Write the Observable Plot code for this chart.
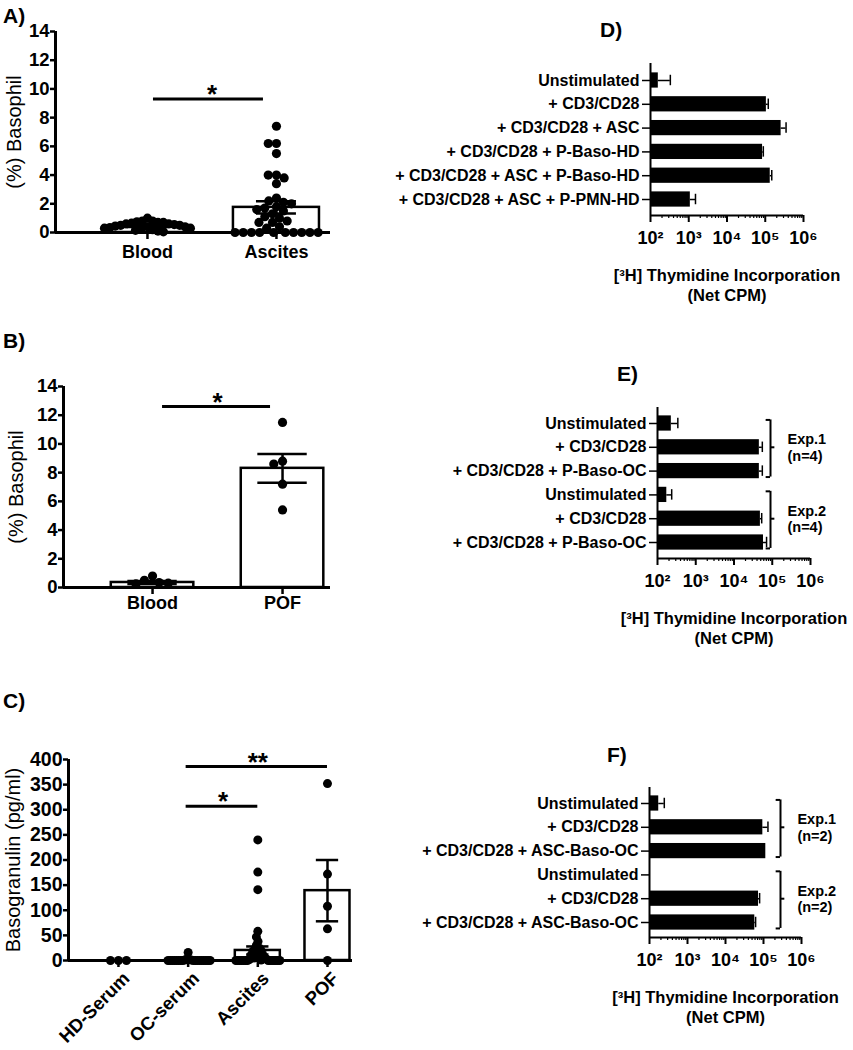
<!DOCTYPE html>
<html><head><meta charset="utf-8">
<script src="https://cdn.jsdelivr.net/npm/d3@7"></script>
<script src="https://cdn.jsdelivr.net/npm/@observablehq/plot@0.6"></script>
<style>
html,body{margin:0;padding:0;background:#fff;}
#fig{position:relative;width:853px;height:1050px;overflow:hidden;font-family:'Liberation Sans',Arial,sans-serif;color:#000;background:#fff;}
.lab{position:absolute;font-size:21px;font-weight:bold;line-height:21px;}
.panel{position:absolute;}
</style></head><body><div id="fig"></div>
<script>
const FONT = "'Liberation Sans', Arial, Helvetica, sans-serif";

// ---------- Panel A ----------
const aCats = ["Blood", "Ascites"];
const aBlood = [1.0, 0.8, 0.8, 0.75, 0.7, 0.7, 0.65, 0.6, 0.6, 0.55, 0.5, 0.5, 0.45, 0.4, 0.4, 0.35, 0.3, 0.3, 0.25, 0.2, 0.15, 0.1, 0.05];
const aAscites = [7.4, 6.2, 6.2, 5.5, 4.0, 4.0, 3.8, 3.4, 2.4, 2.2, 2.1, 2.0, 1.8, 1.7, 1.6, 1.5, 1.3, 1.1, 1.0, 0.8, 0.7, 0.7, 0.4, 0.3, 0, 0, 0, 0, 0, 0, 0, 0, 0, 0];
const aMean = [0.45, 1.75];
const aSem = [0.06, 0.42];
const aSig = [{from: 0, to: 1, y: 9.3, label: "*"}];
const aTicks = [0, 2, 4, 6, 8, 10, 12, 14];

// ---------- Panel B ----------
const bCats = ["Blood", "POF"];
const bBlood = [0.8, 0.5, 0.35, 0.3, 0.25];
const bPOF = [11.5, 8.8, 8.6, 7.2, 5.4];
const bMean = [0.35, 8.3];
const bSem = [0.1, 1.0];
const bSig = [{from: 0, to: 1, y: 12.6, label: "*"}];
const bTicks = [0, 2, 4, 6, 8, 10, 12, 14];

// ---------- Panel C ----------
const cCats = ["HD-Serum", "OC-serum", "Ascites", "POF"];
const cHD = [0, 0, 0];
const cOC = [16, 3, 2, 1, 1, 0, 0, 0, 0, 0, 0, 0, 0, 0, 0, 0, 0, 0, 0, 0, 0, 0];
const cAscites = [240, 176, 141, 58, 47, 38, 30, 25, 22, 20, 18, 15, 12, 10, 8, 6, 5, 4, 3, 2, 1, 0, 0, 0, 0, 0, 0, 0, 0, 0, 0, 0, 0, 0, 0];
const cPOF = [352, 172, 108, 63, 0];
const cMean = [0, 1, 20, 139];
const cSem = [0, 0.8, 8, 61];
const cSig = [{from: 1, to: 2, y: 307, label: "*"}, {from: 1, to: 3, y: 386, label: "**"}];
const cTicks = [0, 50, 100, 150, 200, 250, 300, 350, 400];

// ---------- Panel D ----------
const dLabels = ["Unstimulated", "+ CD3/CD28", "+ CD3/CD28 + ASC", "+ CD3/CD28 + P-Baso-HD", "+ CD3/CD28 + ASC + P-Baso-HD", "+ CD3/CD28 + ASC + P-PMN-HD"];
const dValues = [160, 107000, 260000, 85000, 135000, 1100];
const dSem = [170, 13000, 90000, 4000, 13000, 400];

// ---------- Panel E ----------
const eLabels = ["Unstimulated", "+ CD3/CD28", "+ CD3/CD28 + P-Baso-OC", "Unstimulated", "+ CD3/CD28", "+ CD3/CD28 + P-Baso-OC"];
const eValues = [230, 46000, 46000, 175, 49000, 59000];
const eSem = [110, 9000, 9000, 60, 4000, 12000];
const eGroups = [{from: 0, to: 2, label: "Exp.1\n(n=4)"}, {from: 3, to: 5, label: "Exp.2\n(n=4)"}];

// ---------- Panel F ----------
const fLabels = ["Unstimulated", "+ CD3/CD28", "+ CD3/CD28 + ASC-Baso-OC", "Unstimulated", "+ CD3/CD28", "+ CD3/CD28 + ASC-Baso-OC"];
const fValues = [175, 96000, 115000, 100, 74000, 59000];
const fSem = [70, 35000, 0, 0, 5000, 3000];
const fGroups = [{from: 0, to: 2, label: "Exp.1\n(n=2)"}, {from: 3, to: 5, label: "Exp.2\n(n=2)"}];

const decades = [1e2, 1e3, 1e4, 1e5, 1e6];
const sup = {2: "²", 3: "³", 4: "⁴", 5: "⁵", 6: "⁶"};
const axisTitle = ["[³H] Thymidine Incorporation", "(Net CPM)"];

const fig = document.getElementById("fig");
function place(node, left, top) {
  const d = document.createElement("div");
  d.className = "panel";
  d.style.left = left + "px";
  d.style.top = top + "px";
  d.appendChild(node);
  fig.appendChild(d);
}
function label(txt, left, top) {
  const d = document.createElement("div");
  d.className = "lab";
  d.style.left = left + "px";
  d.style.top = top + "px";
  d.textContent = txt;
  fig.appendChild(d);
}
const baseStyle = {fontFamily: FONT, fontSize: "16px", fontWeight: "bold", background: "none", maxWidth: "none", overflow: "visible", color: "black"};

// beeswarm layout (pixel space), compressed to a maximum half width
function swarm(vals, pxY, r, pad, maxHalf) {
  const d = 2 * r + pad;
  const placed = [];
  const xs = [];
  for (const v of vals) {
    const y = v * pxY;
    const cand = [0];
    for (const p of placed) {
      const dy = Math.abs(p.y - y);
      if (dy < d) {
        const dx = Math.sqrt(d * d - dy * dy);
        cand.push(p.x - dx, p.x + dx);
      }
    }
    cand.sort((a, b) => Math.abs(a) - Math.abs(b));
    const x = cand.find(c => placed.every(p => (p.x - c) ** 2 + (p.y - y) ** 2 >= d * d - 1e-6));
    placed.push({x, y});
    xs.push(x);
  }
  const m = Math.max(0, ...xs.map(Math.abs));
  const k = m > maxHalf ? maxHalf / m : 1;
  return xs.map(x => x * k);
}

function scatterPanel(c) {
  const pxY = (c.height - c.mt - c.mb) / (c.yDomain[1] - c.yDomain[0]);
  const pxX = (c.width - c.ml - c.mr) / (c.xDomain[1] - c.xDomain[0]);
  const pts = [];
  c.groups.forEach((vals, i) => {
    const off = swarm(vals, pxY, c.r, c.pad, c.maxHalf);
    vals.forEach((v, k) => pts.push({i, v, x: i + off[k] / pxX}));
  });
  const bars = c.cats.map((cat, i) => ({i, cat, m: c.mean[i], s: c.sem[i]}));
  const eb = bars.filter(d => d.s > 0);
  const catText = c.rotate
    ? Plot.text(bars, {x: "i", text: "cat", frameAnchor: "bottom", rotate: c.rotate, textAnchor: "end", lineAnchor: "middle", dx: 8, dy: c.xPad, fontSize: c.catFont, fontWeight: "bold"})
    : Plot.text(bars, {x: "i", text: "cat", frameAnchor: "bottom", lineAnchor: "top", dy: c.xPad, fontSize: c.catFont, fontWeight: "bold"});
  return Plot.plot({
    width: c.width, height: c.height,
    marginLeft: c.ml, marginTop: c.mt, marginRight: c.mr, marginBottom: c.mb,
    x: {domain: c.xDomain, axis: null},
    y: {domain: c.yDomain, axis: null},
    style: baseStyle,
    marks: [
      Plot.rectY(bars, {x1: d => d.i - c.barW / 2, x2: d => d.i + c.barW / 2, y1: 0, y2: "m", fill: "white", stroke: "black", strokeWidth: 2.5}),
      Plot.dot(pts, {x: "x", y: "v", r: c.r, fill: "black", stroke: "none"}),
      Plot.ruleX(eb, {x: "i", y1: d => d.m - d.s, y2: d => d.m + d.s, strokeWidth: 2.5}),
      Plot.ruleY(eb, {y: d => d.m + d.s, x1: d => d.i - c.capW, x2: d => d.i + c.capW, strokeWidth: 2.5}),
      Plot.ruleY(eb, {y: d => d.m - d.s, x1: d => d.i - c.capW, x2: d => d.i + c.capW, strokeWidth: 2.5}),
      Plot.ruleX([c.xDomain[0]], {strokeWidth: 3}),
      Plot.ruleY([0], {strokeWidth: 3}),
      Plot.axisY({ticks: c.yTicks, tickSize: 5, tickFormat: () => "", label: null, strokeWidth: 2.5}),
      Plot.text(c.yTicks, {y: d => d, text: d => String(d), frameAnchor: "left", textAnchor: "end", dx: -6, fontSize: c.tickFont, fontWeight: "bold"}),
      Plot.axisX({ticks: d3.range(c.cats.length), tickSize: 7, tickFormat: () => "", label: null, strokeWidth: 2.5}),
      catText,
      Plot.ruleY(c.sig, {y: "y", x1: "from", x2: "to", strokeWidth: 3, insetLeft: c.sigInsetL, insetRight: c.sigInsetR}),
      Plot.text(c.sig, {x: d => (d.from + d.to) / 2, y: "y", text: "label", fontSize: 26, fontWeight: "bold", lineAnchor: "bottom", dy: 4}),
      Plot.text([c.ylabel], {text: d => d, frameAnchor: "left", textAnchor: "middle", lineAnchor: "middle", rotate: -90, dx: c.labelDx, fontSize: 20, fontWeight: "normal"})
    ]
  });
}

function hbarPanel(c) {
  const rows = c.labels.map((l, i) => ({i, l, v: c.values[i], s: c.sems[i]}));
  const eb = rows.filter(d => d.s > 0);
  const minor = [];
  for (let e = 2; e < 6; e++) for (let m = 2; m <= 9; m++) minor.push(m * 10 ** e);
  const marks = [
    Plot.rectX(rows, {x1: 100, x2: "v", y1: d => d.i - 0.32, y2: d => d.i + 0.32, fill: "black"}),
    Plot.ruleY(eb, {y: "i", x1: "v", x2: d => d.v + d.s, strokeWidth: 1.5}),
    Plot.ruleX(eb, {x: d => d.v + d.s, y1: d => d.i - 0.22, y2: d => d.i + 0.22, strokeWidth: 1.5}),
    Plot.ruleX([100], {strokeWidth: 2}),
    Plot.ruleY([c.yDomain[1]], {strokeWidth: 2}),
    Plot.axisX({ticks: minor, tickSize: 3, tickFormat: () => "", label: null, strokeWidth: 1.2}),
    Plot.axisX({ticks: decades, tickSize: 7, tickFormat: () => "", label: null, strokeWidth: 2}),
    Plot.text(decades, {x: d => d, text: d => "10" + sup[Math.round(Math.log10(d))], frameAnchor: "bottom", lineAnchor: "middle", dy: 23, fontSize: 18, fontWeight: "bold"}),
    Plot.axisY({ticks: d3.range(c.labels.length), tickSize: 8, tickFormat: () => "", label: null, strokeWidth: 1.5}),
    Plot.text(rows, {y: "i", text: "l", frameAnchor: "left", textAnchor: "end", lineAnchor: "middle", dx: -11, fontSize: 16, fontWeight: "bold"}),
    Plot.text(axisTitle.slice(0, 1), {text: d => d, frameAnchor: "bottom", lineAnchor: "middle", dy: 60, fontSize: 16.5, fontWeight: "bold"}),
    Plot.text(axisTitle.slice(1), {text: d => d, frameAnchor: "bottom", lineAnchor: "middle", dy: 80, fontSize: 16.5, fontWeight: "bold"})
  ];
  if (c.groups) {
    marks.push(
      Plot.ruleX(c.groups, {x: c.bx, y1: d => d.from - 0.15, y2: d => d.to + 0.25, strokeWidth: 2}),
      Plot.ruleY(c.groups, {y: d => d.from - 0.15, x1: c.bx / 1.3, x2: c.bx, strokeWidth: 2}),
      Plot.ruleY(c.groups, {y: d => d.to + 0.25, x1: c.bx / 1.3, x2: c.bx, strokeWidth: 2}),
      Plot.ruleY(c.groups, {y: d => (d.from + d.to) / 2, x1: c.bx, x2: c.bx * 1.3, strokeWidth: 2}),
      Plot.text(c.groups, {x: c.tx, y: d => (d.from + d.to) / 2, text: "label", textAnchor: "start", lineAnchor: "middle", fontSize: 14.5, fontWeight: "bold", lineHeight: 1.15})
    );
  }
  return Plot.plot({
    width: c.width, height: c.height,
    marginLeft: c.ml, marginTop: c.mt, marginRight: c.mr, marginBottom: c.mb,
    x: {type: "log", domain: [100, 1e6], axis: null},
    y: {domain: c.yDomain, reverse: true, axis: null},
    style: baseStyle,
    marks
  });
}

place(scatterPanel({
  cats: aCats, groups: [aBlood, aAscites], mean: aMean, sem: aSem, sig: aSig, yTicks: aTicks,
  yDomain: [0, 14], xDomain: [-0.713, 1.419], width: 340, height: 270, ml: 55, mt: 31, mr: 10, mb: 38,
  r: 4.6, pad: -1, maxHalf: 43, barW: 0.667, capW: 0.155, tickFont: 18.5, catFont: 18, xPad: 13,
  sigInsetL: 6, sigInsetR: 13, ylabel: "(%) Basophil", labelDx: -41
}), 0, 0);

place(scatterPanel({
  cats: bCats, groups: [bBlood, bPOF], mean: bMean, sem: bSem, sig: bSig, yTicks: bTicks,
  yDomain: [0, 14], xDomain: [-0.685, 1.369], width: 340, height: 265, ml: 63, mt: 26, mr: 10, mb: 38,
  r: 4.6, pad: 0, maxHalf: 30, barW: 0.635, capW: 0.19, tickFont: 18.5, catFont: 18, xPad: 9,
  sigInsetL: 10, sigInsetR: 12, ylabel: "(%) Basophil", labelDx: -47
}), 0, 360);

place(scatterPanel({
  cats: cCats, groups: [cHD, cOC, cAscites, cPOF], mean: cMean, sem: cSem, sig: cSig, yTicks: cTicks,
  yDomain: [0, 400], xDomain: [-0.717, 3.359], width: 360, height: 310, ml: 68, mt: 19, mr: 8, mb: 90,
  r: 4.5, pad: -1, maxHalf: 22, barW: 0.646, capW: 0.16, tickFont: 19.5, catFont: 18.5, xPad: 15, rotate: -45,
  sigInsetL: -2, sigInsetR: 0, ylabel: "Basogranulin (pg/ml)", labelDx: -55
}), 0, 740);

place(hbarPanel({
  labels: dLabels, values: dValues, sems: dSem,
  width: 513, height: 260, ml: 310, mr: 50, mt: 13, mb: 95, yDomain: [-0.714, 5.672]
}), 340, 50);

place(hbarPanel({
  labels: eLabels, values: eValues, sems: eSem, groups: eGroups, bx: 90000, tx: 250000,
  width: 513, height: 265, ml: 317, mr: 43, mt: 17, mb: 97, yDomain: [-0.672, 5.672]
}), 340, 390);

place(hbarPanel({
  labels: fLabels, values: fValues, sems: fSem, groups: fGroups, bx: 280000, tx: 780000,
  width: 513, height: 280, ml: 309, mr: 52, mt: 17, mb: 113, yDomain: [-0.672, 5.63]
}), 340, 770);

label("A)", 3, 5);
label("B)", 3, 330);
label("C)", 3, 690);
label("D)", 600, 19);
label("E)", 617, 363);
label("F)", 607, 744);
</script></body></html>
